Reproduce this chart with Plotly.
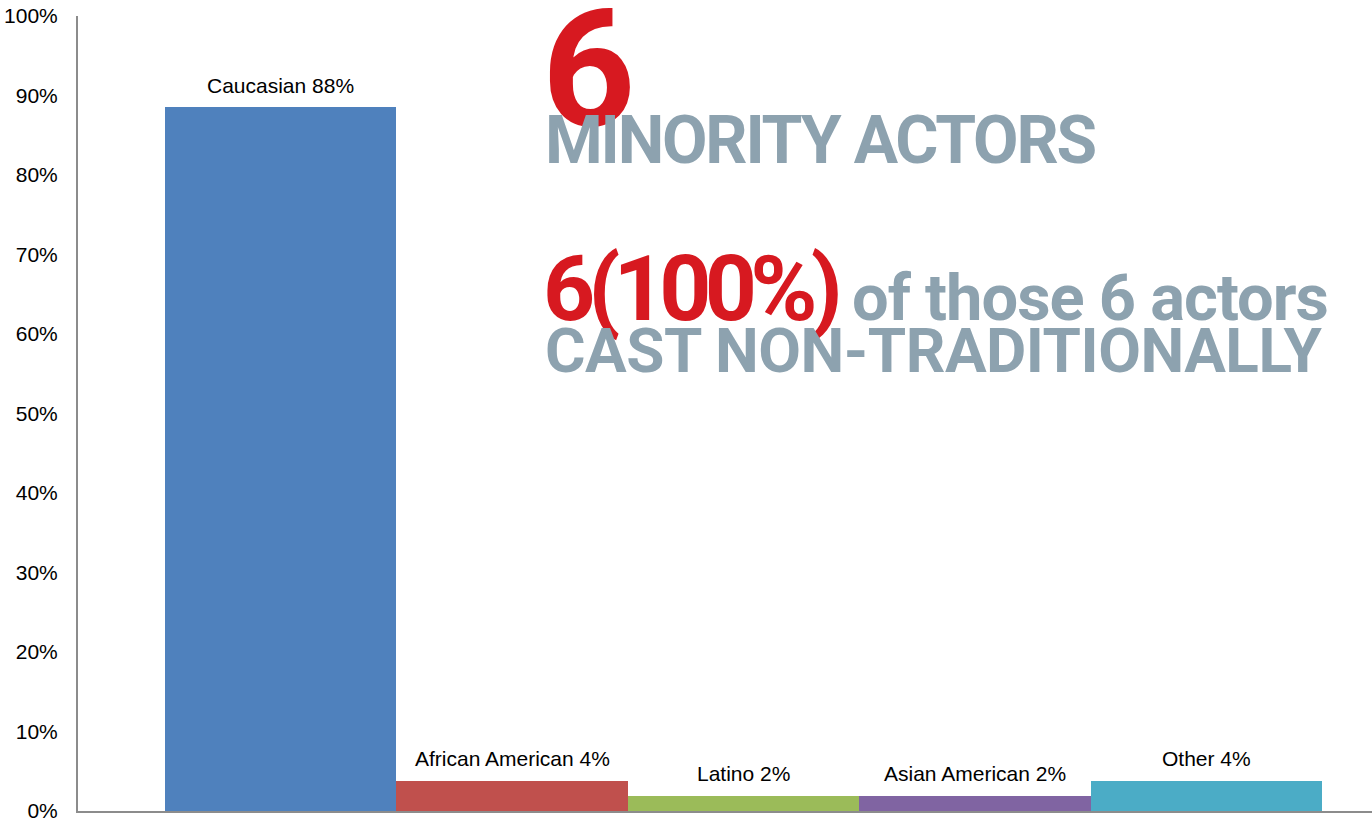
import plotly.graph_objects as go

categories = ["Caucasian", "African American", "Latino", "Asian American", "Other"]
values = [88.5, 3.8, 1.9, 1.9, 3.8]
label_pct = [88, 4, 2, 2, 4]
colors = ["#4F81BD", "#C0504D", "#9BBB59", "#8064A2", "#4BACC6"]
y_ticks = list(range(0, 101, 10))
y_tick_text = [f"{v}%" for v in y_ticks]

W, H = 1372, 821
PL, PR, PT, PB = 78, 1372, 16, 811          # plot area in window pixels
ML, MR, MT, MB = PL, W - PR, PT, H - PB
PW, PH = PR - PL, PB - PT

def px_x(px):
    return (px - PL) / PW

def px_y(py):
    return (PB - py) / PH

fig = go.Figure()
fig.add_trace(go.Bar(
    x=list(range(len(categories))), y=values,
    marker=dict(color=colors, line=dict(width=0)),
    width=1.0, showlegend=False, hoverinfo="skip",
))

annotations = []
for i, (c, v, p) in enumerate(zip(categories, values, label_pct)):
    annotations.append(dict(
        x=i, y=v, xref="x", yref="y", text=f"{c} {p}%", showarrow=False,
        yanchor="middle", yshift=22,
        font=dict(family="Liberation Sans, Arial", size=21, color="#000000"),
    ))

RED = "#D71920"
GRAY = "#8DA2AF"
BIG = "Roboto, Arial"

def ls(t, px):
    return f'<span style="letter-spacing:{px}px">{t}</span>'

big = [
    dict(text="<b>6</b>", x=px_x(540), y=px_y(70), font=dict(family=BIG, size=163, color=RED)),
    dict(text="<b>" + ls("MINORITY ACTORS", -2.2) + "</b>", x=px_x(543), y=px_y(141),
         font=dict(family=BIG, size=66, color=GRAY)),
    dict(text="<b>" + ls("6(100%)", -6.7) + "</b>", x=px_x(541), y=px_y(289),
         font=dict(family=BIG, size=91, color=RED)),
    dict(text="<b>" + ls("of those 6 actors", -1) + "</b>", x=px_x(850), y=px_y(298),
         font=dict(family=BIG, size=65, color=GRAY)),
    dict(text="<b>" + ls("CAST NON-TRADITIONALLY", -0.5) + "</b>", x=px_x(543), y=px_y(350),
         font=dict(family=BIG, size=62, color=GRAY)),
]
for a in big:
    a.update(xref="paper", yref="paper", showarrow=False, xanchor="left", yanchor="middle")
annotations += big

fig.update_layout(
    width=W, height=H,
    margin=dict(l=ML, r=MR, t=MT, b=MB, pad=0, autoexpand=False),
    paper_bgcolor="white", plot_bgcolor="white",
    bargap=0,
    annotations=annotations,
    xaxis=dict(range=[-0.876, 4.716], showgrid=False, zeroline=False, showticklabels=False,
               ticks="", showline=True, linecolor="#8C8C8C", linewidth=2, fixedrange=True,
               automargin=False),
    yaxis=dict(range=[0, 100], tickvals=y_ticks, ticktext=y_tick_text, showgrid=False,
               zeroline=False, showline=True, linecolor="#8C8C8C", linewidth=2,
               ticks="outside", ticklen=14, tickcolor="rgba(0,0,0,0)",
               ticklabeloverflow="allow", automargin=False,
               tickfont=dict(family="Liberation Sans, Arial", size=21, color="#000000"),
               fixedrange=True),
)

fig.write_html(
    "out.html",
    config={"displayModeBar": False},
    post_script="document.body.style.margin='0';document.documentElement.style.overflow='hidden';",
)
